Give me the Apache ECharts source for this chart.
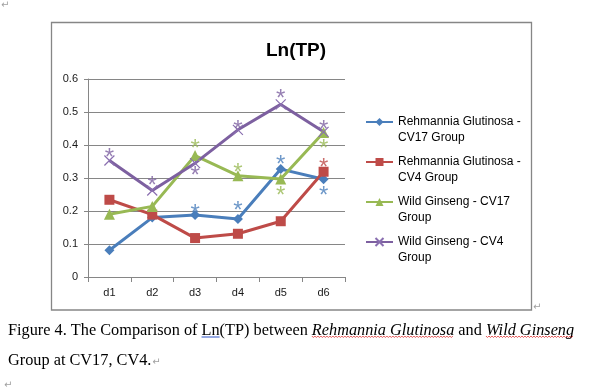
<!DOCTYPE html>
<html><head><meta charset="utf-8">
<script src="https://cdn.jsdelivr.net/npm/echarts@6/dist/echarts.min.js"></script>
<style>html,body{margin:0;padding:0;background:#fff}#c{width:594px;height:389px}</style>
</head><body><div id="c"></div>
<script>
const categories = ['d1', 'd2', 'd3', 'd4', 'd5', 'd6'];
const seriesNames = ['Rehmannia Glutinosa - CV17 Group', 'Rehmannia Glutinosa - CV4 Group', 'Wild Ginseng - CV17 Group', 'Wild Ginseng - CV4 Group'];
const legendLabels = [['Rehmannia Glutinosa -', 'CV17 Group'], ['Rehmannia Glutinosa -', 'CV4 Group'], ['Wild Ginseng - CV17', 'Group'], ['Wild Ginseng - CV4', 'Group']];
const rgCV17 = [0.081, 0.180, 0.188, 0.176, 0.327, 0.296];
const rgCV4 = [0.234, 0.189, 0.118, 0.131, 0.169, 0.319];
const wgCV17 = [0.190, 0.214, 0.368, 0.307, 0.297, 0.438];
const wgCV4 = [0.353, 0.262, 0.345, 0.446, 0.523, 0.440];
// significance asterisks: [category index, value]
const starsRgCV17 = [[2, 0.209], [3, 0.216], [4, 0.355], [5, 0.262]];
const starsRgCV4 = [[5, 0.348]];
const starsWgCV17 = [[2, 0.405], [3, 0.333], [4, 0.264], [5, 0.405]];
const starsWgCV4 = [[0, 0.378], [1, 0.294], [2, 0.323], [3, 0.464], [4, 0.555], [5, 0.463]];
const chartTitle = 'Ln(TP)';
const yMin = 0, yMax = 0.6, yStep = 0.1;

const colors = ['#4A7EBB', '#BE4B48', '#98B954', '#7D60A0'];
const symbols = ['diamond', 'rect', 'triangle', 'path://M0,0L10,10M10,0L0,10'];
const symSizes = [10, 10, 11, 10];
const lineData = [rgCV17, rgCV4, wgCV17, wgCV4];
const starData = [starsRgCV17, starsRgCV4, starsWgCV17, starsWgCV4];

const chart = echarts.init(document.getElementById('c'), null, {renderer: 'canvas'});
const series = [];
lineData.forEach((d, i) => {
  series.push({
    name: seriesNames[i], type: 'line', data: d,
    symbol: symbols[i], symbolSize: symSizes[i],
    lineStyle: {color: colors[i], width: 3},
    itemStyle: i === 3 ? {color: 'rgba(0,0,0,0)', borderColor: '#8A6FB0', borderWidth: 1.2} : {color: colors[i], borderColor: colors[i], borderWidth: 0},
    z: 3, animation: false
  });
});
starData.forEach((d, i) => {
  series.push({
    name: seriesNames[i] + ' *', type: 'scatter', data: d,
    symbol: 'circle', symbolSize: 2, itemStyle: {color: 'rgba(255,255,255,0)'},
    label: {show: true, formatter: '*', position: 'inside', color: colors[i], fontSize: 24, fontFamily: 'Liberation Sans', offset: [0, 6]},
    z: 4, animation: false, silent: true
  });
});

// caption measurement
const capFont = '16.3px "Liberation Serif"';
const capFontI = 'italic 16.3px "Liberation Serif"';
const cv = document.createElement('canvas').getContext('2d');
function w(t, f) { cv.font = f; return cv.measureText(t).width; }
const capX = 8, capY1 = 339, capY2 = 369;
const p1 = 'Figure 4. The Comparison of ';
const p2 = 'Ln';
const p3 = '(TP) between ';
const p4 = 'Rehmannia Glutinosa';
const p5 = ' and ';
const p6 = 'Wild Ginseng';
const xLn = capX + w(p1, capFont);
const wLn = w(p2, capFont);
const xRG = xLn + wLn + w(p3, capFont);
const wRG = w(p4, capFontI);
const xWG = xRG + wRG + w(p5, capFont);
const wWG = w(p6, capFontI);
function wavy(x0, x1, y) {
  const pts = []; let up = true;
  for (let x = x0; x <= x1; x += 1.5) { pts.push([x, up ? y : y + 1.5]); up = !up; }
  return {type: 'polyline', shape: {points: pts}, style: {stroke: '#E03030', lineWidth: 0.8, fill: null}, silent: true};
}
const line2 = 'Group at CV17, CV4.';
const wL2 = w(line2, capFont);
const ulY = capY1 - 3;

chart.setOption({
  animation: false,
  title: {text: chartTitle, left: 291, top: 36, textAlign: 'center',
    textStyle: {fontFamily: 'Liberation Sans', fontSize: 19, fontWeight: 'bold', color: '#000'}},
  grid: {left: 88, right: 249, top: 79, bottom: 112, containLabel: false},
  legend: {
    orient: 'vertical', left: 360, top: 93, itemWidth: 27, itemHeight: 10, itemGap: -8,
    data: seriesNames,
    formatter: name => '\n' + legendLabels[seriesNames.indexOf(name)].join('\n'),
    textStyle: {fontFamily: 'Liberation Sans', fontSize: 12, lineHeight: 16, color: '#000'}
  },
  xAxis: {type: 'category', data: categories, boundaryGap: true,
    axisLine: {lineStyle: {color: '#868686', width: 1}},
    axisTick: {show: true, length: 5, lineStyle: {color: '#868686'}},
    axisLabel: {color: '#1a1a1a', fontFamily: 'Liberation Sans', fontSize: 11, margin: 10}},
  yAxis: {type: 'value', min: yMin, max: yMax, interval: yStep,
    axisLine: {show: true, lineStyle: {color: '#868686', width: 1}},
    axisTick: {show: true, length: 4, lineStyle: {color: '#868686'}},
    splitLine: {lineStyle: {color: '#868686', width: 1}},
    axisLabel: {color: '#1a1a1a', fontFamily: 'Liberation Sans', fontSize: 11, margin: 10}},
  series: series,
  graphic: [
    {type: 'rect', shape: {x: 51.5, y: 22.5, width: 480, height: 287.5}, style: {fill: null, stroke: '#868686', lineWidth: 1.3}, silent: true, z: -1},
    {type: 'text', x: 1, y: 0, style: {text: '\u21B5', fill: '#a0a0a0', font: '10px "DejaVu Sans"'}, silent: true},
    {type: 'text', x: 533, y: 302, style: {text: '\u21B5', fill: '#a0a0a0', font: '10px "DejaVu Sans"'}, silent: true},
    {type: 'text', x: capX, y: capY1, style: {
      text: '{n|' + p1 + p2 + p3 + '}{i|' + p4 + '}{n|' + p5 + '}{i|' + p6 + '}',
      verticalAlign: 'bottom', fill: '#000',
      rich: {n: {font: capFont, fill: '#000'}, i: {font: capFontI, fill: '#000'}}
    }, silent: true},
    {type: 'text', x: capX, y: capY2, style: {text: line2, font: capFont, fill: '#000', verticalAlign: 'bottom'}, silent: true},
    {type: 'text', x: capX + wL2 + 1, y: capY2 - 2, style: {text: '\u21B5', fill: '#a0a0a0', font: '10px "DejaVu Sans"', verticalAlign: 'bottom'}, silent: true},
    {type: 'text', x: 4, y: 380, style: {text: '\u21B5', fill: '#a0a0a0', font: '10px "DejaVu Sans"'}, silent: true},
    {type: 'line', shape: {x1: xLn, y1: ulY + 1, x2: xLn + wLn, y2: ulY + 1}, style: {stroke: '#2F55C8', lineWidth: 1}, silent: true},
    wavy(xRG, xRG + wRG, ulY),
    wavy(xWG, xWG + wWG, ulY)
  ]
});
</script></body></html>
